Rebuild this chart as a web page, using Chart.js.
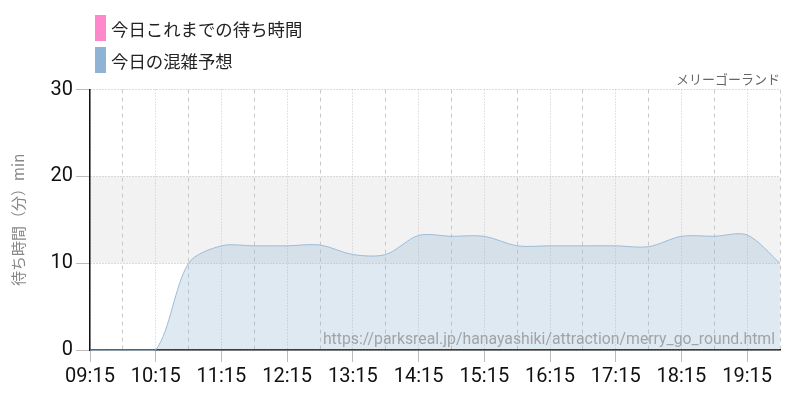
<!DOCTYPE html>
<html lang="ja">
<head>
<meta charset="utf-8">
<script src="https://cdn.jsdelivr.net/npm/chart.js@4"></script>
<style>
  html, body { margin: 0; padding: 0; background: #fff; }
  .wrap { position: relative; width: 800px; height: 400px; }
  .legend { position: absolute; left: 95px; top: 15px; font-family: "Noto Sans CJK JP", sans-serif; font-size: 17.4px; color: #222; }
  .legend div { display: flex; align-items: center; height: 26px; margin-bottom: 6px; }
  .legend span.box { display: inline-block; width: 11px; height: 26px; margin-right: 5px; }
</style>
</head>
<body>
<div class="wrap">
  <canvas id="chart" width="800" height="400"></canvas>
  <div class="legend">
    <div><span class="box" style="background:#ff88cc"></span>今日これまでの待ち時間</div>
    <div><span class="box" style="background:#8fb3d3"></span>今日の混雑予想</div>
  </div>
</div>
<script>
// 30分ごとの時刻
const times = [
  "09:15", "09:45", "10:15", "10:45", "11:15", "11:45", "12:15", "12:45",
  "13:15", "13:45", "14:15", "14:45", "15:15", "15:45", "16:15", "16:45",
  "17:15", "17:45", "18:15", "18:45", "19:15", "19:45"
];
// 今日これまでの待ち時間 (まだデータなし)
const todayWaits = [];
// 今日の混雑予想 (分)
const forecast = [
  0, 0, 0, 10, 12, 12, 12, 12.1,
  11, 11, 13.2, 13.1, 13.1, 12, 12, 12,
  12, 11.9, 13.1, 13.1, 13.25, 10
];
const yTicks = [0, 10, 20, 30];
const bandRange = [10, 20];

const tickFont = { family: "Roboto, 'Liberation Sans', sans-serif", size: 20, weight: "normal" };

// 10〜20分の帯
const bandPlugin = {
  id: "band",
  beforeDraw(chart) {
    const { ctx, chartArea, scales } = chart;
    const yTop = scales.y.getPixelForValue(bandRange[1]);
    const yBot = scales.y.getPixelForValue(bandRange[0]);
    ctx.save();
    ctx.fillStyle = "#f2f2f2";
    ctx.fillRect(chartArea.left, yTop, chartArea.right - chartArea.left, yBot - yTop);
    ctx.restore();
  }
};

// URLの透かし
const watermark = {
  id: "watermark",
  afterDatasetsDraw(chart) {
    const { ctx, chartArea } = chart;
    ctx.save();
    ctx.font = "15.8px Roboto, sans-serif";
    ctx.fillStyle = "rgba(140,140,140,0.75)";
    ctx.textAlign = "right";
    ctx.textBaseline = "alphabetic";
    ctx.fillText("https://parksreal.jp/hanayashiki/attraction/merry_go_round.html", chartArea.right - 5, chartArea.bottom - 6);
    ctx.restore();
  }
};

new Chart(document.getElementById("chart"), {
  type: "line",
  data: {
    labels: times,
    datasets: [
      {
        label: "今日これまでの待ち時間",
        data: todayWaits,
        borderColor: "#ff88cc",
        backgroundColor: "rgba(255,136,204,0.3)",
        pointRadius: 0
      },
      {
        label: "今日の混雑予想",
        data: forecast,
        borderColor: "#9dbcda",
        backgroundColor: "rgba(145,180,210,0.29)",
        borderWidth: 1,
        fill: "origin",
        pointRadius: 0,
        tension: 0.3,
        clip: 4
      }
    ]
  },
  options: {
    responsive: false,
    animation: false,
    layout: { padding: { left: 0, right: 20, top: 0, bottom: 0 } },
    plugins: {
      legend: { display: false },
      tooltip: { enabled: false },
      title: {
        display: true,
        text: "メリーゴーランド",
        align: "end",
        color: "#666",
        font: { family: "'Noto Sans CJK JP', sans-serif", size: 13, weight: "normal" },
        padding: { top: 71, bottom: 3 }
      }
    },
    scales: {
      x: {
        ticks: {
          autoSkip: false,
          maxRotation: 0,
          color: "#111",
          font: tickFont,
          padding: 3,
          callback: (v, i) => (i % 2 === 0 ? times[i] : "")
        },
        grid: {
          color: "#c8c8c8",
          tickLength: 12,
          tickColor: ctx => (ctx.index % 2 === 0 ? "#bbb" : "rgba(0,0,0,0)")
        },
        border: {
          color: "#111",
          width: 1.5,
          dash: ctx => (ctx.index % 2 === 0 ? [1, 2] : [4, 4])
        },
        afterFit: scale => { scale.height = 50; }
      },
      y: {
        min: 0,
        max: 30,
        afterBuildTicks: scale => { scale.ticks = yTicks.map(v => ({ value: v })); },
        ticks: { color: "#111", font: tickFont, padding: 3 },
        grid: { color: "#bbb", tickLength: 14, tickColor: "#bbb" },
        border: { color: "#111", width: 1.5, dash: [1, 2] },
        title: {
          display: true,
          text: "待ち時間（分）min",
          color: "#888",
          font: { family: "'Noto Sans CJK JP', sans-serif", size: 15 },
          padding: { top: 9, bottom: 0 }
        },
        afterFit: scale => { scale.width = 90; }
      }
    }
  },
  plugins: [bandPlugin, watermark]
});
</script>
</body>
</html>
